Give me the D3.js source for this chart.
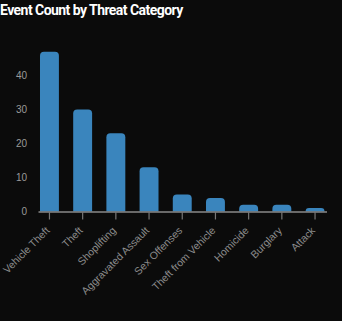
<!DOCTYPE html>
<html><head><meta charset="utf-8">
<script src="https://cdn.jsdelivr.net/npm/d3@7"></script>
<style>
html,body{margin:0;padding:0;background:#0b0b0b;}
svg{display:block;}
</style></head>
<body><svg id="c" width="342" height="321"></svg>
<script>
const categories = ["Vehicle Theft","Theft","Shoplifting","Aggravated Assault","Sex Offenses","Theft from Vehicle","Homicide","Burglary","Attack"];
const counts = [47, 30, 23, 13, 5, 4, 2, 2, 1];
const yTicks = [0, 10, 20, 30, 40];
const title = "Event Count by Threat Category";

const svg = d3.select("#c");
svg.append("rect").attr("width",342).attr("height",321).attr("fill","#0b0b0b");

svg.append("text").attr("x",0).attr("y",15)
  .attr("fill","#ffffff").attr("font-family","Roboto, 'Liberation Sans', sans-serif")
  .attr("font-weight","bold").attr("font-size","14px").attr("letter-spacing","-0.55px")
  .text(title);

const x = d3.scaleBand().domain(categories).range([38, 326.5]).paddingInner(0.43).paddingOuter(0.06);
const y = d3.scaleLinear().domain([0, 47]).range([211.5, 211.5 - 47*3.4]);

const data = categories.map((c,i)=>({c, v: counts[i]}));
const r = 4;
svg.append("g").selectAll("path").data(data).join("path")
  .attr("fill","#3a85bd")
  .attr("d", d => {
    const x0 = x(d.c), w = x.bandwidth(), y0 = y(d.v), y1 = y(0);
    const rr = Math.min(r, (y1-y0), w/2);
    return `M${x0},${y1}V${y0+rr}Q${x0},${y0} ${x0+rr},${y0}H${x0+w-rr}Q${x0+w},${y0} ${x0+w},${y0+rr}V${y1}Z`;
  });

// y axis
const ya = svg.append("g").attr("transform","translate(30,0)")
  .call(d3.axisLeft(y).tickValues(yTicks).tickSize(0).tickPadding(3));
ya.select(".domain").remove();
ya.selectAll("text").attr("fill","#9a9a9a").attr("font-size","10px")
  .attr("font-family","'Liberation Sans', Arial, sans-serif");

// x axis
const xa = svg.append("g").attr("transform","translate(0,211.5)")
  .call(d3.axisBottom(x).tickSizeOuter(0).tickSizeInner(8));
xa.select(".domain").attr("stroke","#8a8a8a").attr("stroke-width",1.6);
xa.selectAll(".tick line").attr("stroke","#777").attr("stroke-width",1.2);
xa.selectAll("text").attr("fill","#8c8c8c").attr("font-size","10.5px")
  .attr("font-family","'Liberation Sans', Arial, sans-serif")
  .style("text-anchor","end")
  .attr("dx","-13.4px").attr("dy","3.5px")
  .attr("transform","rotate(-45)");
</script></body></html>
